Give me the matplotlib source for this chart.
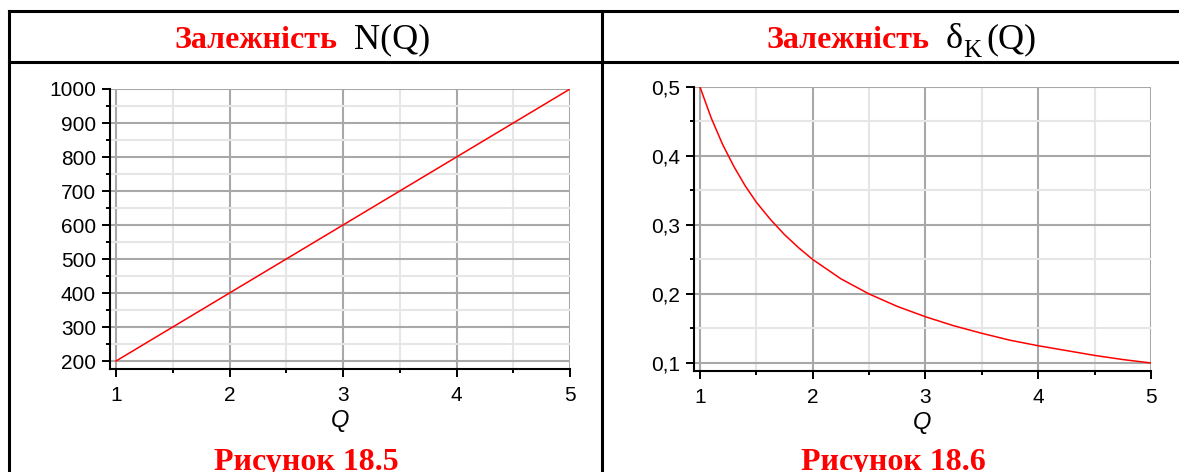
import matplotlib.pyplot as plt
from matplotlib.lines import Line2D
from matplotlib.ticker import MultipleLocator, FuncFormatter

# Data
q_left = [1, 2, 3, 4, 5]
n_values = [200, 400, 600, 800, 1000]

q_right = [1.0, 1.1, 1.2, 1.3, 1.4, 1.5, 1.625, 1.75, 1.875, 2.0, 2.25, 2.5, 2.75,
           3.0, 3.25, 3.5, 3.75, 4.0, 4.25, 4.5, 4.75, 5.0]
delta_values = [0.5, 0.455, 0.417, 0.385, 0.357, 0.333, 0.308, 0.286, 0.267, 0.25,
                0.222, 0.2, 0.182, 0.167, 0.154, 0.143, 0.133, 0.125, 0.118, 0.111,
                0.105, 0.1]

x_ticks = [1, 2, 3, 4, 5]
left_yticks = [200, 300, 400, 500, 600, 700, 800, 900, 1000]
right_yticks = [0.1, 0.2, 0.3, 0.4, 0.5]

W, H = 1179, 472
fig = plt.figure(figsize=(W / 100, H / 100), dpi=100)


def fx(x):
    return x / W


def fy(y):
    return 1 - y / H


# Table lines
for (x0, y0, x1, y1) in [(9, 11, 1179, 11), (9, 62, 1179, 62), (9, 11, 9, 472), (602, 11, 602, 472)]:
    fig.add_artist(Line2D([fx(x0), fx(x1)], [fy(y0), fy(y1)], color='black', lw=2.2,
                          transform=fig.transFigure, solid_capstyle='projecting'))

red = '#ff0000'
serif = 'Liberation Serif'

# Header texts
fig.text(fx(337), fy(48), 'Залежність', color=red, family=serif, weight='bold',
         fontsize=23, ha='right', va='baseline')
fig.text(fx(354), fy(48), 'N(Q)', color='black', family=serif, fontsize=26,
         ha='left', va='baseline')

fig.text(fx(929), fy(48), 'Залежність', color=red, family=serif, weight='bold',
         fontsize=23, ha='right', va='baseline')
fig.text(fx(946), fy(48), 'δ', color='black', family=serif, fontsize=26,
         ha='left', va='baseline')
fig.text(fx(963), fy(57), 'K', color='black', family=serif, fontsize=18,
         ha='left', va='baseline')
fig.text(fx(986), fy(48), '(Q)', color='black', family=serif, fontsize=26,
         ha='left', va='baseline')

# Captions
fig.text(fx(306), fy(470), 'Рисунок 18.5', color=red, family=serif, weight='bold',
         fontsize=23, ha='center', va='baseline')
fig.text(fx(893), fy(470), 'Рисунок 18.6', color=red, family=serif, weight='bold',
         fontsize=23, ha='center', va='baseline')


def style_axes(ax, y_major, y_minor, fmt):
    for s in ['top', 'right']:
        ax.spines[s].set_visible(False)
    for s in ['left', 'bottom']:
        ax.spines[s].set_linewidth(1.5)
    ax.xaxis.set_major_locator(MultipleLocator(1))
    ax.xaxis.set_minor_locator(MultipleLocator(0.5))
    ax.yaxis.set_major_locator(MultipleLocator(y_major))
    ax.yaxis.set_minor_locator(MultipleLocator(y_minor))
    ax.yaxis.set_major_formatter(FuncFormatter(fmt))
    ax.xaxis.set_major_formatter(FuncFormatter(lambda v, p: '%d' % v))
    ax.grid(which='major', color='#a8a8a8', lw=1.5, zorder=0)
    ax.grid(which='minor', color='#e6e6e6', lw=1.5, zorder=0)
    ax.set_axisbelow(True)
    ax.tick_params(which='major', length=6, width=1.4, pad=4, labelsize=15, color='black')
    ax.tick_params(axis='x', which='major', pad=6)
    ax.tick_params(which='minor', length=3, width=1.4, color='black')
    ax.set_xlabel('Q', family='Liberation Sans', style='italic', fontsize=17, labelpad=3)


# Left plot: N(Q)
ax1 = fig.add_axes([fx(110), fy(369), fx(460), 280 / H])
ax1.plot(q_left, n_values, color=red, lw=1.1, zorder=3)
ax1.set_xlim(0.947, 5)
ax1.set_ylim(176.5, 1000)
style_axes(ax1, 100, 50, lambda v, p: '%d' % v)
ax1.set_yticks(left_yticks)
ax1.set_xticks(x_ticks)

# Right plot: delta_K(Q)
ax2 = fig.add_axes([fx(694), fy(371), fx(457), 284 / H])
ax2.plot(q_right, delta_values, color=red, lw=1.1, zorder=3)
ax2.set_xlim(0.947, 5)
ax2.set_ylim(0.0884, 0.5)
style_axes(ax2, 0.1, 0.05, lambda v, p: ('%.1f' % v).replace('.', ','))
ax2.set_yticks(right_yticks)
ax2.set_xticks(x_ticks)

for ax in (ax1, ax2):
    for lab in ax.get_xticklabels() + ax.get_yticklabels():
        lab.set_family('Liberation Sans')

plt.savefig('out.png', dpi=100)
